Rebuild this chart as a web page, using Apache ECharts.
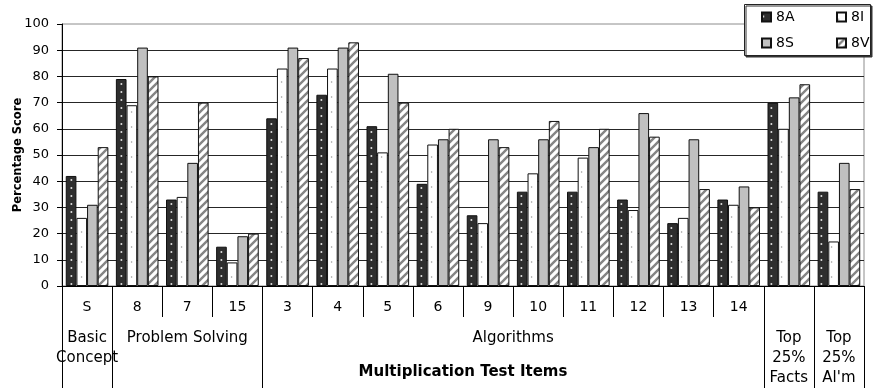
<!DOCTYPE html>
<html>
<head>
<meta charset="utf-8">
<script src="https://cdn.jsdelivr.net/npm/echarts@6/dist/echarts.min.js"></script>
<style>
  html, body { margin: 0; padding: 0; background: #fff; }
  #chart { width: 873px; height: 390px; }
</style>
</head>
<body>
<div id="chart"></div>
<script>
// Test items on the category axis (first level of the axis)
const items = ['S', '8', '7', '15', '3', '4', '5', '6', '9', '10', '11', '12', '13', '14', 'Top 25% Facts', "Top 25% Al'm"];
const itemLabels = ['S', '8', '7', '15', '3', '4', '5', '6', '9', '10', '11', '12', '13', '14', '', ''];

// Item groups (second level of the axis) and how many items each spans
const groupNames = ['Basic\nConcept', 'Problem Solving', 'Algorithms', 'Top\n25%\nFacts', "Top\n25%\nAl'm"];
const groupSizes = [1, 3, 10, 1, 1];

// Percentage scores per class
const score8A = [42, 79, 33, 15, 64, 73, 61, 39, 27, 36, 36, 33, 24, 33, 70, 36];
const score8I = [26, 69, 34, 9, 83, 83, 51, 54, 24, 43, 49, 29, 26, 31, 60, 17];
const score8S = [31, 91, 47, 19, 91, 91, 81, 56, 56, 56, 53, 66, 56, 38, 72, 47];
const score8V = [53, 80, 70, 20, 87, 93, 70, 60, 53, 63, 60, 57, 37, 30, 77, 37];

const yTicks = [0, 10, 20, 30, 40, 50, 60, 70, 80, 90, 100];

// Group boundaries and centres along the item index axis
const groupBounds = [0];
const groupCenters = [];
groupSizes.forEach(function (n) {
  const start = groupBounds[groupBounds.length - 1];
  groupCenters.push(start + n / 2);
  groupBounds.push(start + n);
});

// Fill patterns
function tile(w, h, draw) {
  const c = document.createElement('canvas');
  c.width = w; c.height = h;
  const g = c.getContext('2d');
  draw(g, w, h);
  return { image: c, repeat: 'repeat' };
}
const darkDots = tile(10, 8, function (g, w, h) {
  g.fillStyle = '#2e2e2e'; g.fillRect(0, 0, w, h);
  g.fillStyle = '#e0e0e0';
  g.beginPath(); g.arc(1.4, 4, 1.0, 0, Math.PI * 2); g.fill();
});
const lightDots = tile(10, 15, function (g, w, h) {
  g.fillStyle = '#ffffff'; g.fillRect(0, 0, w, h);
  g.fillStyle = '#9a9a9a';
  g.beginPath(); g.arc(1.6, 7, 0.8, 0, Math.PI * 2); g.fill();
});
const stripes = tile(8, 8, function (g, w, h) {
  g.fillStyle = '#ffffff'; g.fillRect(0, 0, w, h);
  g.strokeStyle = '#858585'; g.lineWidth = 2.4;
  g.beginPath();
  g.moveTo(-2, 10); g.lineTo(10, -2);
  g.moveTo(-2, 2); g.lineTo(2, -2);
  g.moveTo(6, 10); g.lineTo(10, 6);
  g.stroke();
});

const FONT = 'DejaVu Sans';
const chart = echarts.init(document.getElementById('chart'), null, { renderer: 'canvas' });

function barSeries(name, data, fill) {
  return {
    name: name,
    type: 'bar',
    data: data,
    barGap: '0%',
    barCategoryGap: '15%',
    itemStyle: { color: fill, borderColor: '#111', borderWidth: 1 },
    emphasis: { disabled: true }
  };
}

const splitColors = yTicks.map(function () { return '#262626'; });

function legendColumn(names, left) {
  return {
    data: names, orient: 'vertical', left: left, top: 9, z: 6, padding: 0,
    itemWidth: 9, itemHeight: 9, itemGap: 10, icon: 'rect',
    textStyle: { fontFamily: FONT, fontSize: 14, color: '#000', lineHeight: 16 },
    selectedMode: false
  };
}

chart.setOption({
  animation: false,
  grid: {
    left: 62, right: 9, top: 24, bottom: 104,
    show: true, borderColor: '#8c8c8c', borderWidth: 1, backgroundColor: 'transparent'
  },
  graphic: [{
    type: 'rect',
    z: 5,
    shape: { x: 744.5, y: 4.5, width: 126, height: 51 },
    style: { fill: '#fff', stroke: '#222', lineWidth: 1, shadowColor: '#333', shadowOffsetX: 1.5, shadowOffsetY: 1.5, shadowBlur: 0 }
  }],
  legend: [legendColumn(['8A', '8S'], 761), legendColumn(['8I', '8V'], 836)],
  xAxis: [
    {
      type: 'category',
      data: items,
      position: 'bottom',
      axisLine: { show: true, lineStyle: { color: '#000', width: 1 } },
      axisTick: { show: true, length: 31, lineStyle: { color: '#000', width: 1 } },
      axisLabel: {
        interval: 0, margin: 14, color: '#000', fontFamily: FONT, fontSize: 14,
        formatter: function (v, i) { return itemLabels[i]; }
      },
      splitLine: { show: false },
      name: 'Multiplication Test Items',
      nameLocation: 'middle',
      nameGap: 79,
      nameMoveOverlap: false,
      nameTextStyle: { fontFamily: FONT, fontSize: 15, fontWeight: 'bold', color: '#000' }
    },
    {
      type: 'value',
      min: 0, max: items.length,
      position: 'bottom',
      axisLine: { show: false },
      splitLine: { show: false },
      axisTick: { show: true, length: 102, customValues: groupBounds, lineStyle: { color: '#000', width: 1 } },
      axisLabel: {
        customValues: groupCenters, margin: 42, color: '#000', fontFamily: FONT, fontSize: 15, lineHeight: 20,
        formatter: function (v) { return groupNames[groupCenters.indexOf(v)]; }
      }
    }
  ],
  yAxis: {
    type: 'value',
    min: 0, max: 100, interval: 10,
    axisLine: { show: true, lineStyle: { color: '#000', width: 1 } },
    axisTick: { show: true, length: 5, lineStyle: { color: '#000' } },
    axisLabel: { margin: 13, color: '#000', fontFamily: FONT, fontSize: 13 },
    splitLine: { show: true, showMaxLine: false, lineStyle: { color: splitColors, width: 1 } },
    name: 'Percentage Score',
    nameLocation: 'middle',
    nameGap: 38,
    nameMoveOverlap: false,
    nameTextStyle: { fontFamily: FONT, fontSize: 11.5, fontWeight: 'bold', color: '#000' }
  },
  series: [
    barSeries('8A', score8A, darkDots),
    barSeries('8I', score8I, lightDots),
    barSeries('8S', score8S, '#c0c0c0'),
    barSeries('8V', score8V, stripes)
  ]
});
</script>
</body>
</html>
